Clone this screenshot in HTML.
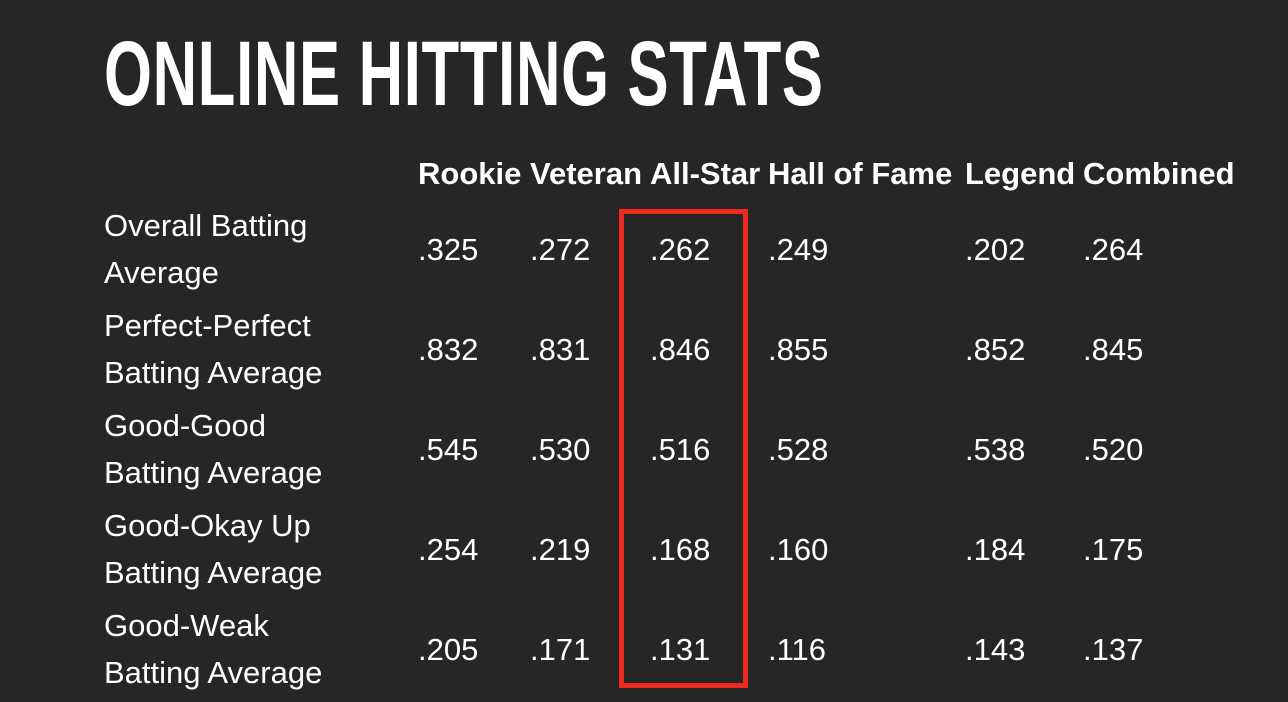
<!DOCTYPE html>
<html><head><meta charset="utf-8">
<style>
html,body{margin:0;padding:0;background:#262626;}
#root{position:relative;width:1288px;height:702px;overflow:hidden;background:#262626;color:#fff;font-family:"Liberation Sans",sans-serif;}
#title{position:absolute;left:104px;top:28px;font-size:92px;font-weight:bold;line-height:92px;white-space:nowrap;transform-origin:0 0;letter-spacing:1px;}
.t{position:absolute;white-space:nowrap;font-size:31px;line-height:48px;}
.h{font-weight:bold;}
#box{position:absolute;left:619px;top:209px;width:119px;height:469px;border:5px solid #ee2a1f;}
</style></head>
<body>
<div id="root">
<div id="title">ONLINE HITTING STATS</div>
<div id="box"></div>
</div>
<script>
const columns=["Rookie","Veteran","All-Star","Hall of Fame","Legend","Combined"];
const rowLabels=[["Overall Batting","Average"],["Perfect-Perfect","Batting Average"],["Good-Good","Batting Average"],["Good-Okay Up","Batting Average"],["Good-Weak","Batting Average"]];
const values=[
[".325",".272",".262",".249",".202",".264"],
[".832",".831",".846",".855",".852",".845"],
[".545",".530",".516",".528",".538",".520"],
[".254",".219",".168",".160",".184",".175"],
[".205",".171",".131",".116",".143",".137"]];
const colX=[418,530,650,768,965,1083];
const root=document.getElementById('root');
const title=document.getElementById('title');
title.style.transform='scaleX('+(720/title.offsetWidth)+')';
function add(txt,x,cy,cls,name){
  const d=document.createElement('div');
  d.className='t '+cls;
  d.textContent=txt;
  d.style.left=x+'px';
  d.style.top=(cy-23)+'px';
  
  
  root.appendChild(d);
}
columns.forEach((c,i)=>add(c,colX[i],173,'h','column-header'));
rowLabels.forEach((r,j)=>{
  add(r[0],104,225+j*100,'','row-label');
  add(r[1],104,272+j*100,'','row-label');
  values[j].forEach((v,i)=>add(v,colX[i],249+j*100,'','cell-value'));
});
</script>
</body></html>
